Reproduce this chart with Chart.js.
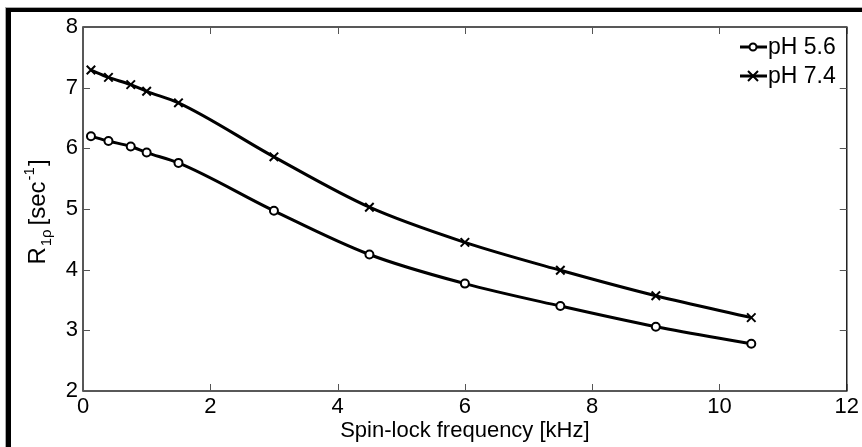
<!DOCTYPE html>
<html>
<head>
<meta charset="utf-8">
<script src="https://cdn.jsdelivr.net/npm/chart.js@4.4.1/dist/chart.umd.min.js"></script>
<style>
  html, body { margin: 0; padding: 0; background: #fff; }
  #wrap { width: 862px; height: 447px; position: relative; }
</style>
</head>
<body>
<div id="wrap"><canvas id="chart_1" width="862" height="447"></canvas></div>
<script>
// spin-lock frequency in kHz
var freqs = [0.125, 0.4, 0.75, 1.0, 1.5, 3, 4.5, 6, 7.5, 9, 10.5];
var ph56 = [6.2, 6.12, 6.03, 5.93, 5.76, 4.97, 4.25, 3.77, 3.4, 3.06, 2.78];
var ph74 = [7.29, 7.17, 7.05, 6.94, 6.75, 5.86, 5.03, 4.45, 3.99, 3.57, 3.21];
var seriesNames = ['pH 5.6', 'pH 7.4'];
var xTicks = [0, 2, 4, 6, 8, 10, 12];
var yTicks = [2, 3, 4, 5, 6, 7, 8];

var FONT = '"Liberation Sans", Arial, Helvetica, sans-serif';

function toPoints(ys) {
  return freqs.map(function (f, i) { return { x: f, y: ys[i] }; });
}

// frame, box, inward ticks, legend and y title
var extras = {
  id: 'extras',
  beforeDraw: function (chart) {
    var ctx = chart.ctx;
    ctx.save();
    ctx.fillStyle = '#fff';
    ctx.fillRect(0, 0, chart.width, chart.height);
    ctx.fillStyle = '#aaa';
    ctx.fillRect(5, 7, 1, chart.height);
    ctx.fillRect(5, 7, chart.width, 1);
    ctx.fillStyle = '#000';
    ctx.fillRect(6, 8, 5, chart.height);
    ctx.fillRect(6, 8, chart.width, 4);
    ctx.restore();
  },
  afterDraw: function (chart) {
    var ctx = chart.ctx;
    var a = chart.chartArea;
    var xs = chart.scales.x, ys = chart.scales.y;
    ctx.save();
    ctx.strokeStyle = '#222';
    ctx.lineWidth = 1.5;
    ctx.strokeRect(a.left, a.top, a.right - a.left, a.bottom - a.top);
    ctx.lineWidth = 1;
    ctx.strokeStyle = '#555';
    ctx.beginPath();
    xTicks.forEach(function (v) {
      var px = Math.round(xs.getPixelForValue(v)) + 0.5;
      ctx.moveTo(px, a.bottom); ctx.lineTo(px, a.bottom - 7);
      ctx.moveTo(px, a.top); ctx.lineTo(px, a.top + 7);
    });
    yTicks.forEach(function (v) {
      var py = Math.round(ys.getPixelForValue(v)) + 0.5;
      ctx.moveTo(a.left, py); ctx.lineTo(a.left + 7, py);
      ctx.moveTo(a.right, py); ctx.lineTo(a.right - 7, py);
    });
    ctx.stroke();

    // legend
    ctx.fillStyle = '#000';
    ctx.strokeStyle = '#000';
    ctx.font = '23px ' + FONT;
    ctx.textBaseline = 'middle';
    ctx.textAlign = 'left';
    var lx = 740, rows = [47, 76];
    chart.data.datasets.forEach(function (ds, i) {
      var y = rows[i];
      ctx.lineWidth = 3;
      ctx.beginPath();
      ctx.moveTo(lx, y); ctx.lineTo(lx + 27, y);
      ctx.stroke();
      ctx.lineWidth = 2;
      if (i === 0) {
        ctx.beginPath();
        ctx.arc(lx + 13, y, 3.5, 0, Math.PI * 2);
        ctx.fillStyle = '#fff';
        ctx.fill();
        ctx.stroke();
      } else {
        ctx.beginPath();
        ctx.moveTo(lx + 8, y - 5); ctx.lineTo(lx + 18, y + 5);
        ctx.moveTo(lx + 8, y + 5); ctx.lineTo(lx + 18, y - 5);
        ctx.stroke();
      }
      ctx.fillStyle = '#000';
      ctx.fillText(ds.label, lx + 28, y + 1);
    });

    // y title: R_1rho [sec^-1]
    ctx.save();
    ctx.translate(38, 212);
    ctx.rotate(-Math.PI / 2);
    ctx.textBaseline = 'alphabetic';
    var parts = [
      ['R', 24, 0, 1], ['1\u03c1', 15, 6, 4], ['[sec', 24, 0, 1], ['-1', 15, -11, 1], [']', 24, 0, 0]
    ];
    var total = 0;
    parts.forEach(function (p) { ctx.font = p[1] + 'px ' + FONT; total += ctx.measureText(p[0]).width + p[3]; });
    var x = -total / 2;
    parts.forEach(function (p) {
      ctx.font = p[1] + 'px ' + FONT;
      ctx.fillText(p[0], x, 7 + p[2]);
      x += ctx.measureText(p[0]).width + p[3];
    });
    ctx.restore();
    ctx.restore();
  }
};

var myChart = new Chart('chart_1', {
  type: 'line',
  data: {
    datasets: [{
      label: seriesNames[0],
      data: toPoints(ph56),
      borderColor: '#000',
      backgroundColor: '#fff',
      borderWidth: 3,
      pointStyle: 'circle',
      pointRadius: 4,
      pointBorderWidth: 2,
      cubicInterpolationMode: 'monotone'
    }, {
      label: seriesNames[1],
      data: toPoints(ph74),
      borderColor: '#000',
      backgroundColor: '#000',
      borderWidth: 3,
      pointStyle: 'crossRot',
      pointRadius: 6,
      pointBorderWidth: 2,
      cubicInterpolationMode: 'monotone'
    }]
  },
  options: {
    responsive: false,
    animation: false,
    layout: { padding: { left: 0, right: 15, top: 27, bottom: 0 } },
    plugins: { legend: { display: false }, tooltip: { enabled: false } },
    scales: {
      x: {
        type: 'linear', min: 0, max: 12,
        afterBuildTicks: function (s) { s.ticks = xTicks.map(function (v) { return { value: v }; }); },
        afterFit: function (s) { s.height = 56; },
        grid: { display: false, drawTicks: false },
        border: { display: false },
        ticks: { color: '#000', padding: 3, font: { family: FONT, size: 22 } },
        title: {
          display: true, text: 'Spin-lock frequency [kHz]', color: '#000',
          padding: { top: 0, bottom: 3 }, font: { family: FONT, size: 22 }
        }
      },
      y: {
        type: 'linear', min: 2, max: 8,
        afterBuildTicks: function (s) { s.ticks = yTicks.map(function (v) { return { value: v }; }); },
        afterFit: function (s) { s.width = 83; },
        grid: { display: false, drawTicks: false },
        border: { display: false },
        ticks: { color: '#000', padding: 5, font: { family: FONT, size: 22 } }
      }
    }
  },
  plugins: [extras]
});
</script>
</body>
</html>
